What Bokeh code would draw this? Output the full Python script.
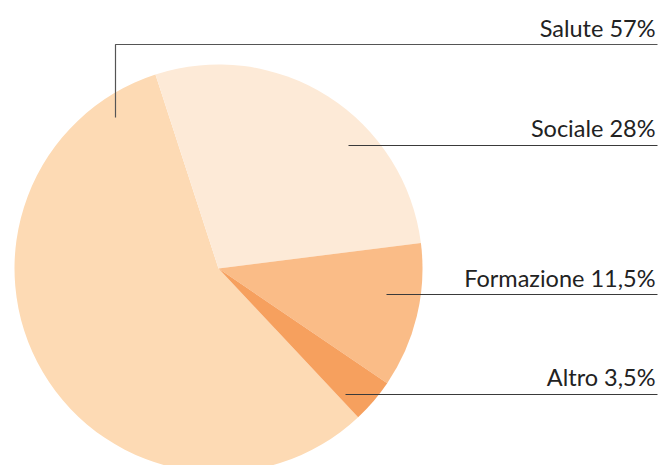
import math
from bokeh.plotting import figure
from bokeh.models import Range1d, ColumnDataSource
from bokeh.core.properties import value
from bokeh.embed import file_html
from bokeh.resources import INLINE

# ---- data ----
categories = ["Salute", "Sociale", "Formazione", "Altro"]
shares = [57, 28, 11.5, 3.5]
share_labels = ["57%", "28%", "11,5%", "3,5%"]
colors = ["#FDDAB4", "#FDEAD7", "#FABC87", "#F6A05E"]

# ---- layout (image pixel coordinates; y_up = H - img_y) ----
W, H = 661, 465
cx, cy, r = 218, 268, 204
start_cw_deg = 136.8  # Salute starts here, clockwise from 12 o'clock

def Y(img_y):
    return H - img_y

total = sum(shares)
starts, ends = [], []
acc = start_cw_deg
for s in shares:
    th1 = math.radians(acc)
    th2 = math.radians(acc + s / total * 360.0)
    starts.append(math.pi / 2 - th2)
    ends.append(math.pi / 2 - th1)
    acc += s / total * 360.0

src = ColumnDataSource(dict(x=[cx] * 4, y=[Y(cy)] * 4, start=starts, end=ends,
                            color=colors, cat=categories))

p = figure(width=W, height=H, output_backend="svg", toolbar_location=None,
           x_range=Range1d(0, W), y_range=Range1d(0, H),
           min_border=0, outline_line_color=None)
p.axis.visible = False
p.grid.visible = False
p.background_fill_color = "white"
p.border_fill_color = "white"

p.wedge(x="x", y="y", radius=r, start_angle="start", end_angle="end",
        fill_color="color", line_color=None, source=src)

# leader lines
line_col = "#3a3a3a"
line_y = [44, 145, 294, 394]
line_x0 = [115, 348, 386, 345]
p.line([115, 115, 657], [Y(117), Y(44), Y(44)], line_color="#555555", line_width=1.2)
for i in range(1, 4):
    p.line([line_x0[i], 657], [Y(line_y[i]), Y(line_y[i])], line_color=line_col, line_width=1)

labels = [f"{c} {s}" for c, s in zip(categories, share_labels)]
base_y = [27, 127, 277, 376]
p.text(x=[655] * 4, y=[Y(b) for b in base_y], text=labels,
       text_align="right", text_baseline="alphabetic",
       text_font=value("Lato"), text_font_size="23.5px", text_color="#222222")

open("out.html", "w").write(file_html(p, INLINE))
